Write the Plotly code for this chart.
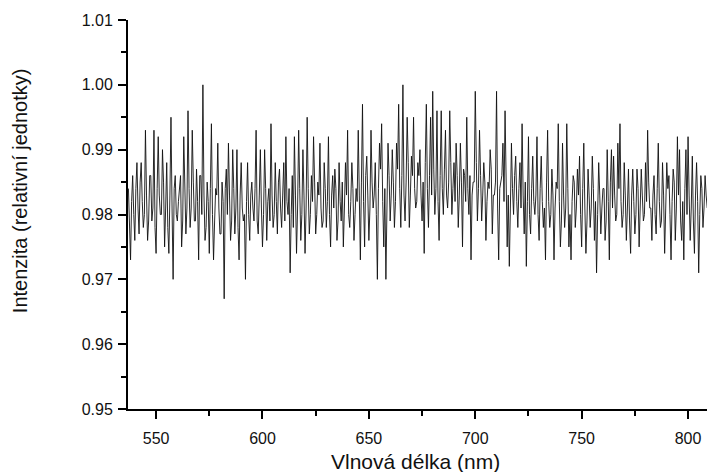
import plotly.graph_objects as go

# Relative intensity at whole nanometres, 537-809 nm
intensity_whole = [
    # 537-565
    0.984, 0.973, 0.986, 0.976, 0.988, 0.977, 0.988, 0.978, 0.993, 0.976,
    0.986, 0.979, 0.993, 0.974, 0.992, 0.980, 0.990, 0.975, 0.988, 0.974,
    0.995, 0.970, 0.986, 0.979, 0.985, 0.975, 0.992, 0.977, 0.996,
    # 566-592
    0.978, 0.993, 0.979, 0.987, 0.973, 0.986, 1.000, 0.976, 0.985, 0.974,
    0.994, 0.973, 0.984, 0.991, 0.977, 0.985, 0.967, 0.987, 0.991, 0.976,
    0.990, 0.977, 0.990, 0.973, 0.988, 0.979, 0.970,
    # 593-619
    0.988, 0.976, 0.985, 0.979, 0.993, 0.977, 0.990, 0.975, 0.990, 0.976,
    0.984, 0.994, 0.978, 0.988, 0.977, 0.987, 0.978, 0.988, 0.992, 0.980,
    0.971, 0.986, 0.992, 0.974, 0.993, 0.976, 0.990,
    # 620-646
    0.974, 0.995, 0.977, 0.986, 0.992, 0.977, 0.985, 0.991, 0.978, 0.988,
    0.978, 0.992, 0.975, 0.986, 0.987, 0.976, 0.988, 0.979, 0.975, 0.988,
    0.993, 0.978, 0.988, 0.976, 0.984, 0.993, 0.973,
    # 647-673
    0.997, 0.975, 0.989, 0.976, 0.993, 0.981, 0.988, 0.970, 0.991, 0.994,
    0.975, 0.970, 0.991, 0.979, 0.990, 0.978, 0.991, 0.997, 0.978, 1.000,
    0.979, 0.995, 0.978, 0.989, 0.995, 0.981, 0.988,
    # 674-701
    0.990, 0.979, 0.974, 0.997, 0.978, 0.995, 0.999, 0.980, 0.996, 0.976,
    0.996, 0.980, 0.993, 0.981, 0.996, 0.980, 0.988, 0.991, 0.978, 0.991,
    0.975, 0.986, 0.995, 0.980, 0.973, 0.985, 0.999, 0.979,
    # 702-728
    0.993, 0.979, 0.988, 0.976, 0.985, 0.990, 0.977, 0.983, 0.999, 0.973,
    0.985, 0.991, 0.996, 0.975, 0.972, 0.991, 0.980, 0.989, 0.978, 0.988,
    0.994, 0.977, 0.972, 0.992, 0.977, 0.989, 0.980,
    # 729-756
    0.992, 0.976, 0.989, 0.978, 0.973, 0.993, 0.978, 0.987, 0.973, 0.985,
    0.994, 0.975, 0.991, 0.978, 0.994, 0.975, 0.973, 0.986, 0.978, 0.987,
    0.989, 0.975, 0.991, 0.974, 0.987, 0.978, 0.989, 0.976,
    # 757-782
    0.971, 0.988, 0.977, 0.984, 0.976, 0.990, 0.973, 0.990, 0.989, 0.979,
    0.991, 0.994, 0.978, 0.988, 0.976, 0.987, 0.974, 0.987, 0.977, 0.987,
    0.975, 0.987, 0.979, 0.988, 0.993, 0.981,
    # 783-809
    0.976, 0.986, 0.977, 0.991, 0.978, 0.988, 0.974, 0.988, 0.986, 0.973,
    0.987, 0.976, 0.992, 0.990, 0.976, 0.973, 0.990, 0.992, 0.976, 0.989,
    0.974, 0.988, 0.971, 0.986, 0.978, 0.986, 0.981,
]

# Relative intensity at the half-nanometre steps, 537.5-808.5 nm
intensity_half = [
    # 537.5-564.5
    0.979, 0.982, 0.980, 0.984, 0.981, 0.985, 0.982, 0.980, 0.983, 0.979,
    0.986, 0.981, 0.978, 0.984, 0.983, 0.980, 0.985, 0.981, 0.978, 0.983,
    0.981, 0.984, 0.980, 0.982, 0.986, 0.979, 0.983, 0.981,
    # 565.5-591.5
    0.984, 0.981, 0.985, 0.979, 0.982, 0.986, 0.980, 0.983, 0.978, 0.982,
    0.984, 0.980, 0.979, 0.983, 0.981, 0.977, 0.982, 0.984, 0.980, 0.983,
    0.979, 0.984, 0.981, 0.978, 0.983, 0.981, 0.980,
    # 592.5-618.5
    0.982, 0.980, 0.983, 0.981, 0.984, 0.979, 0.983, 0.981, 0.980, 0.984,
    0.982, 0.979, 0.983, 0.980, 0.982, 0.985, 0.981, 0.983, 0.979, 0.982,
    0.984, 0.980, 0.978, 0.983, 0.981, 0.984, 0.980,
    # 619.5-645.5
    0.983, 0.981, 0.984, 0.980, 0.982, 0.985, 0.980, 0.983, 0.981, 0.979,
    0.984, 0.982, 0.980, 0.983, 0.981, 0.984, 0.979, 0.982, 0.985, 0.981,
    0.983, 0.980, 0.982, 0.984, 0.980, 0.982, 0.983,
    # 646.5-672.5
    0.985, 0.982, 0.986, 0.983, 0.981, 0.985, 0.983, 0.980, 0.984, 0.987,
    0.982, 0.984, 0.981, 0.986, 0.983, 0.985, 0.982, 0.987, 0.984, 0.986,
    0.983, 0.985, 0.988, 0.983, 0.986, 0.984, 0.982,
    # 673.5-700.5
    0.986, 0.983, 0.985, 0.988, 0.984, 0.986, 0.983, 0.987, 0.984, 0.982,
    0.986, 0.984, 0.987, 0.983, 0.985, 0.988, 0.984, 0.982, 0.986, 0.983,
    0.985, 0.987, 0.982, 0.984, 0.986, 0.983, 0.985, 0.988,
    # 701.5-727.5
    0.984, 0.986, 0.983, 0.985, 0.982, 0.984, 0.987, 0.983, 0.985, 0.981,
    0.984, 0.986, 0.982, 0.985, 0.983, 0.981, 0.984, 0.986, 0.982, 0.984,
    0.981, 0.983, 0.985, 0.982, 0.980, 0.984, 0.982,
    # 728.5-755.5
    0.983, 0.980, 0.984, 0.982, 0.981, 0.985, 0.982, 0.980, 0.983, 0.981,
    0.984, 0.982, 0.979, 0.983, 0.981, 0.984, 0.980, 0.982, 0.985, 0.981,
    0.983, 0.980, 0.984, 0.981, 0.979, 0.983, 0.981, 0.984,
    # 756.5-781.5
    0.982, 0.980, 0.983, 0.981, 0.984, 0.979, 0.982, 0.985, 0.981, 0.983,
    0.980, 0.984, 0.982, 0.980, 0.983, 0.981, 0.979, 0.983, 0.982, 0.980,
    0.984, 0.981, 0.983, 0.980, 0.982, 0.985,
    # 782.5-808.5
    0.981, 0.983, 0.980, 0.984, 0.982, 0.979, 0.983, 0.981, 0.984, 0.980,
    0.982, 0.985, 0.981, 0.983, 0.979, 0.982, 0.984, 0.980, 0.983, 0.981,
    0.979, 0.983, 0.982, 0.980, 0.984, 0.981, 0.983,
]

# Interleave the two sample sets into one spectrum ordered by wavelength
wavelength = []
intensity = []
for i, v in enumerate(intensity_whole):
    wavelength.append(537 + i)
    intensity.append(v)
    if i < len(intensity_half):
        wavelength.append(537.5 + i)
        intensity.append(intensity_half[i])

x_ticks = [550, 600, 650, 700, 750, 800]
y_ticks = [0.95, 0.96, 0.97, 0.98, 0.99, 1.00, 1.01]

font_family = "Liberation Sans, Arial, sans-serif"

fig = go.Figure(
    go.Scatter(
        x=wavelength,
        y=intensity,
        mode="lines",
        line=dict(color="#111", width=0.9),
        showlegend=False,
    )
)

axis_common = dict(
    showline=True,
    linecolor="black",
    linewidth=2,
    ticks="outside",
    tickcolor="black",
    tickwidth=1.5,
    ticklen=8,
    showgrid=False,
    zeroline=False,
    tickfont=dict(family=font_family, size=16, color="#111"),
)

fig.update_layout(
    width=707,
    height=472,
    margin=dict(l=128, r=0, t=20, b=63),
    paper_bgcolor="white",
    plot_bgcolor="white",
    xaxis=dict(
        range=[536.8, 808.9],
        tickvals=x_ticks,
        ticklabelstandoff=6,
        minor=dict(dtick=25, tick0=525, ticks="outside", ticklen=5,
                   tickcolor="black", tickwidth=1.5),
        **axis_common,
    ),
    yaxis=dict(
        range=[0.95, 1.01],
        tickvals=y_ticks,
        tickformat=".2f",
        ticklabelstandoff=2,
        minor=dict(dtick=0.005, tick0=0.95, ticks="outside", ticklen=5,
                   tickcolor="black", tickwidth=1.5),
        **axis_common,
    ),
    annotations=[
        dict(
            text="Intenzita (relativní jednotky)",
            xref="paper", yref="paper", x=0, y=0.56,
            xanchor="center", yanchor="middle",
            xshift=-108, textangle=-90, showarrow=False,
            font=dict(family=font_family, size=20, color="#111"),
        ),
        dict(
            text="Vlnová délka (nm)",
            xref="paper", yref="paper", x=0.496, y=0,
            yshift=-52, yanchor="middle", showarrow=False,
            font=dict(family=font_family, size=21, color="#111"),
        ),
    ],
)

fig.write_html("out.html")
